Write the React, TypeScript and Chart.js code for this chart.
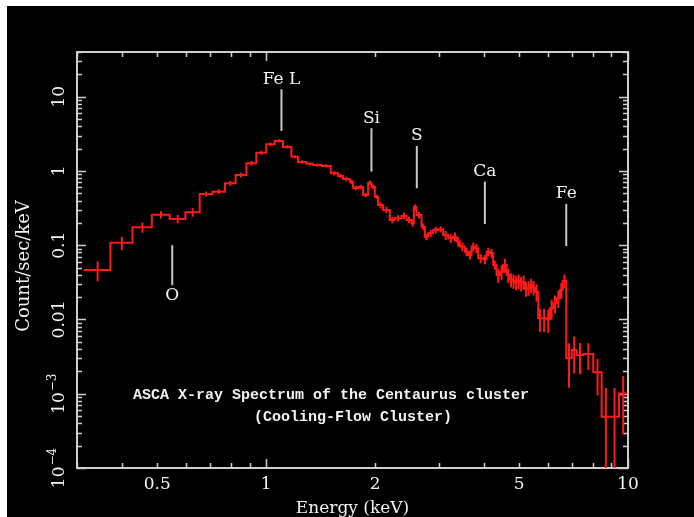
import { useEffect, useRef } from 'react';
import { Chart, registerables } from 'chart.js';

Chart.register(...registerables);

// Spectrum bins: energy edges (keV), count rate (counts/s/keV) and 1-sigma errors
const binEdges = [
  0.313, 0.371, 0.427, 0.483, 0.541, 0.598, 0.655, 0.71, 0.769, 0.823, 0.882, 0.939, 1.0, 1.056, 1.113, 1.174,
  1.224, 1.292, 1.347, 1.421, 1.508,
  1.58, 1.631, 1.702, 1.739, 1.795, 1.853, 1.913, 1.954, 1.996, 2.038, 2.104, 2.196, 2.267, 2.366, 2.443, 2.521,
  2.559, 2.603, 2.687, 2.745, 2.803, 2.893, 2.987, 3.084, 3.184, 3.287, 3.359, 3.43, 3.541, 3.616, 3.695, 3.774,
  3.854, 3.979, 4.066, 4.153, 4.241, 4.333, 4.425, 4.519, 4.618, 4.716,
  4.79, 4.868, 4.95, 5.025, 5.105, 5.188, 5.27, 5.356, 5.44, 5.53,
  5.648, 5.771, 5.959, 6.085, 6.215, 6.351, 6.485, 6.598, 6.75, 6.987, 7.213, 7.523, 8.017, 8.456, 8.916, 9.443,
  9.955,
];

const countRate = [
  0.0465, 0.108, 0.175, 0.258, 0.226, 0.278, 0.49, 0.526, 0.682, 0.883, 1.27, 1.76, 2.29, 2.54, 2.11, 1.56, 1.32,
  1.25, 1.2, 1.17,
  0.931, 0.857, 0.78, 0.718, 0.59, 0.61, 0.475, 0.695, 0.615, 0.451, 0.348, 0.299, 0.219, 0.231, 0.248, 0.219,
  0.198, 0.324, 0.255, 0.178, 0.13, 0.145, 0.16, 0.164, 0.137, 0.124, 0.13, 0.112, 0.0958, 0.0818, 0.074, 0.0958,
  0.091, 0.0667, 0.0647, 0.0818, 0.078, 0.0542, 0.0397, 0.0441, 0.0542, 0.0397,
  0.0345, 0.033, 0.0318, 0.033, 0.0305, 0.032, 0.026, 0.0268, 0.029, 0.027,
  0.0237, 0.0104, 0.0104, 0.0101, 0.0142, 0.0165, 0.0193, 0.0249, 0.0333, 0.003, 0.00388, 0.00333, 0.00343,
  0.00195, 0.000491, 0.000491, 0.00101,
];

const rateError = [
  0.0139, 0.022, 0.028, 0.029, 0.029, 0.036, 0.04, 0.042, 0.054, 0.068, 0.09, 0.11, 0.12, 0.13, 0.11, 0.08, 0.07,
  0.065, 0.06, 0.06,
  0.065, 0.06, 0.055, 0.05, 0.041, 0.043, 0.033, 0.049, 0.043, 0.032,
  0.035, 0.03, 0.022, 0.023, 0.025, 0.022, 0.02, 0.032, 0.026, 0.018, 0.013, 0.015, 0.016, 0.016,
  0.019, 0.017, 0.018, 0.016, 0.013, 0.011, 0.01, 0.013, 0.013, 0.0093, 0.0091, 0.011, 0.011, 0.0076,
  0.0087, 0.0097, 0.012, 0.0087,
  0.0076, 0.0073, 0.007, 0.0073, 0.0067, 0.007, 0.0057, 0.0059, 0.0064, 0.0059,
  0.0062, 0.0036, 0.0036, 0.0035, 0.0042, 0.0045, 0.005, 0.006, 0.007,
  0.0018, 0.002, 0.0015, 0.00135, 0.001, 0.0007, 0.0007, 0.00073,
];

// Axis ticks
const energyTicks = [0.5, 1, 2, 5, 10];
const energyTickLabels = ['0.5', '1', '2', '5', '10'];
const rateTicks = [10, 1, 0.1, 0.01, 1e-3, 1e-4];
const rateTickBase = ['10', '1', '0.1', '0.01', '10', '10'];
const rateTickExp = ['', '', '', '', '\u22123', '\u22124'];

// Emission-line markers (keV, and the rate span of each marker line)
const lineNames = ['O', 'Fe L', 'Si', 'S', 'Ca', 'Fe'];
const lineEnergies = [0.55, 1.102, 1.954, 2.608, 4.022, 6.75];
const lineMarkerLow = [0.029, 3.46, 0.98, 0.585, 0.193, 0.0977];
const lineMarkerHigh = [0.1, 12.6, 3.76, 2.17, 0.718, 0.36];
const lineLabelBelow = [true, false, false, false, false, false];

const titleLines = ['ASCA X-ray Spectrum of the Centaurus cluster', '(Cooling-Flow Cluster)'];

const RED = '#ff1a1a';
const AXIS = '#cfcfcf';
const TEXT = '#f2f2f2';
const SERIF = "'DejaVu Serif', serif";
const MONO = "'Liberation Mono', monospace";

const framePlugin = {
  id: 'frame',
  beforeDatasetsDraw(chart: any) {
    const { ctx, chartArea: a, scales } = chart;
    const xs = scales.x;
    const ys = scales.y;
    ctx.save();
    ctx.strokeStyle = AXIS;
    ctx.lineWidth = 2;
    ctx.strokeRect(a.left, a.top, a.right - a.left, a.bottom - a.top);
    ctx.lineWidth = 1.5;
    ctx.beginPath();
    // energy axis ticks (bottom and top)
    for (let d = 0.1; d <= 10.0001; d *= 10) {
      for (let m = 1; m <= 9; m++) {
        const v = m * d;
        if (v < 0.2999 || v > 10.0001) continue;
        const px = Math.round(xs.getPixelForValue(v)) + 0.5;
        const len = m === 1 ? 9 : 5;
        ctx.moveTo(px, a.bottom);
        ctx.lineTo(px, a.bottom - len);
        ctx.moveTo(px, a.top);
        ctx.lineTo(px, a.top + len);
      }
    }
    // rate axis ticks (left and right)
    for (let d = 1e-4; d <= 10.0001; d *= 10) {
      for (let m = 1; m <= 9; m++) {
        const v = m * d;
        if (v > 40.001) continue;
        const py = Math.round(ys.getPixelForValue(v)) + 0.5;
        const len = m === 1 ? 9 : 5;
        ctx.moveTo(a.left, py);
        ctx.lineTo(a.left + len, py);
        ctx.moveTo(a.right, py);
        ctx.lineTo(a.right - len, py);
      }
    }
    ctx.stroke();

    ctx.fillStyle = TEXT;
    ctx.font = `17px ${SERIF}`;
    ctx.textAlign = 'center';
    ctx.textBaseline = 'middle';
    energyTicks.forEach((v, i) => {
      ctx.fillText(energyTickLabels[i], xs.getPixelForValue(v), a.bottom + 17);
    });

    rateTicks.forEach((v, i) => {
      const py = ys.getPixelForValue(v);
      ctx.save();
      ctx.translate(a.left - 17, py);
      ctx.rotate(-Math.PI / 2);
      ctx.font = `17px ${SERIF}`;
      const wBase = ctx.measureText(rateTickBase[i]).width;
      ctx.font = `12px ${SERIF}`;
      const wExp = rateTickExp[i] ? ctx.measureText(rateTickExp[i]).width + 1 : 0;
      const start = -(wBase + wExp) / 2;
      ctx.textAlign = 'left';
      ctx.font = `17px ${SERIF}`;
      ctx.fillText(rateTickBase[i], start, 0);
      if (rateTickExp[i]) {
        ctx.font = `12px ${SERIF}`;
        ctx.fillText(rateTickExp[i], start + wBase + 1, -7);
      }
      ctx.restore();
    });

    ctx.font = `17px ${SERIF}`;
    ctx.textAlign = 'center';
    ctx.fillText('Energy (keV)', (a.left + a.right) / 2, a.bottom + 41);
    ctx.save();
    ctx.translate(a.left - 53, (a.top + a.bottom) / 2 + 6);
    ctx.rotate(-Math.PI / 2);
    ctx.font = `18px ${SERIF}`;
    ctx.fillText('Count/sec/keV', 0, 0);
    ctx.restore();
    ctx.restore();
  },
};

const errorBarPlugin = {
  id: 'errorBars',
  afterDatasetsDraw(chart: any) {
    const { ctx, chartArea: a, scales } = chart;
    const xs = scales.x;
    const ys = scales.y;
    ctx.save();
    ctx.beginPath();
    ctx.rect(a.left, a.top, a.right - a.left, a.bottom - a.top);
    ctx.clip();
    ctx.strokeStyle = RED;
    ctx.lineWidth = 2;
    ctx.beginPath();
    countRate.forEach((v, i) => {
      const mid = (binEdges[i] + binEdges[i + 1]) / 2;
      const px = xs.getPixelForValue(mid);
      const hi = ys.getPixelForValue(v + rateError[i]);
      const lo = v - rateError[i] > 0 ? ys.getPixelForValue(v - rateError[i]) : a.bottom;
      ctx.moveTo(px, hi);
      ctx.lineTo(px, lo);
    });
    ctx.stroke();
    ctx.restore();
  },
};

const labelPlugin = {
  id: 'lineLabels',
  afterDraw(chart: any) {
    const { ctx, chartArea: a, scales } = chart;
    const xs = scales.x;
    const ys = scales.y;
    ctx.save();
    ctx.strokeStyle = '#c8c8c8';
    ctx.lineWidth = 2;
    ctx.fillStyle = TEXT;
    ctx.font = `17px ${SERIF}`;
    ctx.textAlign = 'center';
    ctx.textBaseline = 'middle';
    lineNames.forEach((name, i) => {
      const px = xs.getPixelForValue(lineEnergies[i]);
      const top = ys.getPixelForValue(lineMarkerHigh[i]);
      const bottom = ys.getPixelForValue(lineMarkerLow[i]);
      ctx.beginPath();
      ctx.moveTo(px, top);
      ctx.lineTo(px, bottom);
      ctx.stroke();
      const ly = lineLabelBelow[i] ? bottom + 10 : top - 10;
      ctx.fillText(name, px, ly);
    });
    ctx.font = `bold 15px ${MONO}`;
    ctx.fillText(titleLines[0], a.left + 254, a.top + 343);
    ctx.fillText(titleLines[1], a.left + 276, a.top + 365);
    ctx.restore();
  },
};

export default function App() {
  const ref = useRef<HTMLCanvasElement | null>(null);

  useEffect(() => {
    const canvas = ref.current;
    if (!canvas) return;
    const points = countRate.map((v, i) => ({ x: binEdges[i], y: v }));
    points.push({ x: binEdges[binEdges.length - 1], y: countRate[countRate.length - 1] });

    const chart = new Chart(canvas, {
      type: 'line',
      data: {
        datasets: [
          {
            data: points,
            borderColor: RED,
            borderWidth: 2,
            pointRadius: 0,
            stepped: true,
            fill: false,
          },
        ],
      },
      options: {
        animation: false,
        responsive: false,
        maintainAspectRatio: false,
        devicePixelRatio: 1,
        events: [],
        layout: { padding: { left: 70, top: 46, right: 66, bottom: 49 } },
        scales: {
          x: { type: 'logarithmic', min: 0.3, max: 10, display: false },
          y: { type: 'logarithmic', min: 1e-4, max: 40, display: false },
        },
        plugins: { legend: { display: false }, tooltip: { enabled: false } },
      },
      plugins: [framePlugin, errorBarPlugin, labelPlugin],
    } as any);

    return () => chart.destroy();
  }, []);

  return (
    <div style={{ position: 'fixed', left: 0, top: 0, width: 694, height: 517, background: '#fff' }}>
      <div style={{ position: 'absolute', left: 7, top: 6, width: 687, height: 511, background: '#000' }}>
        <canvas ref={ref} width={687} height={511} style={{ display: 'block', width: 687, height: 511 }} />
      </div>
    </div>
  );
}
